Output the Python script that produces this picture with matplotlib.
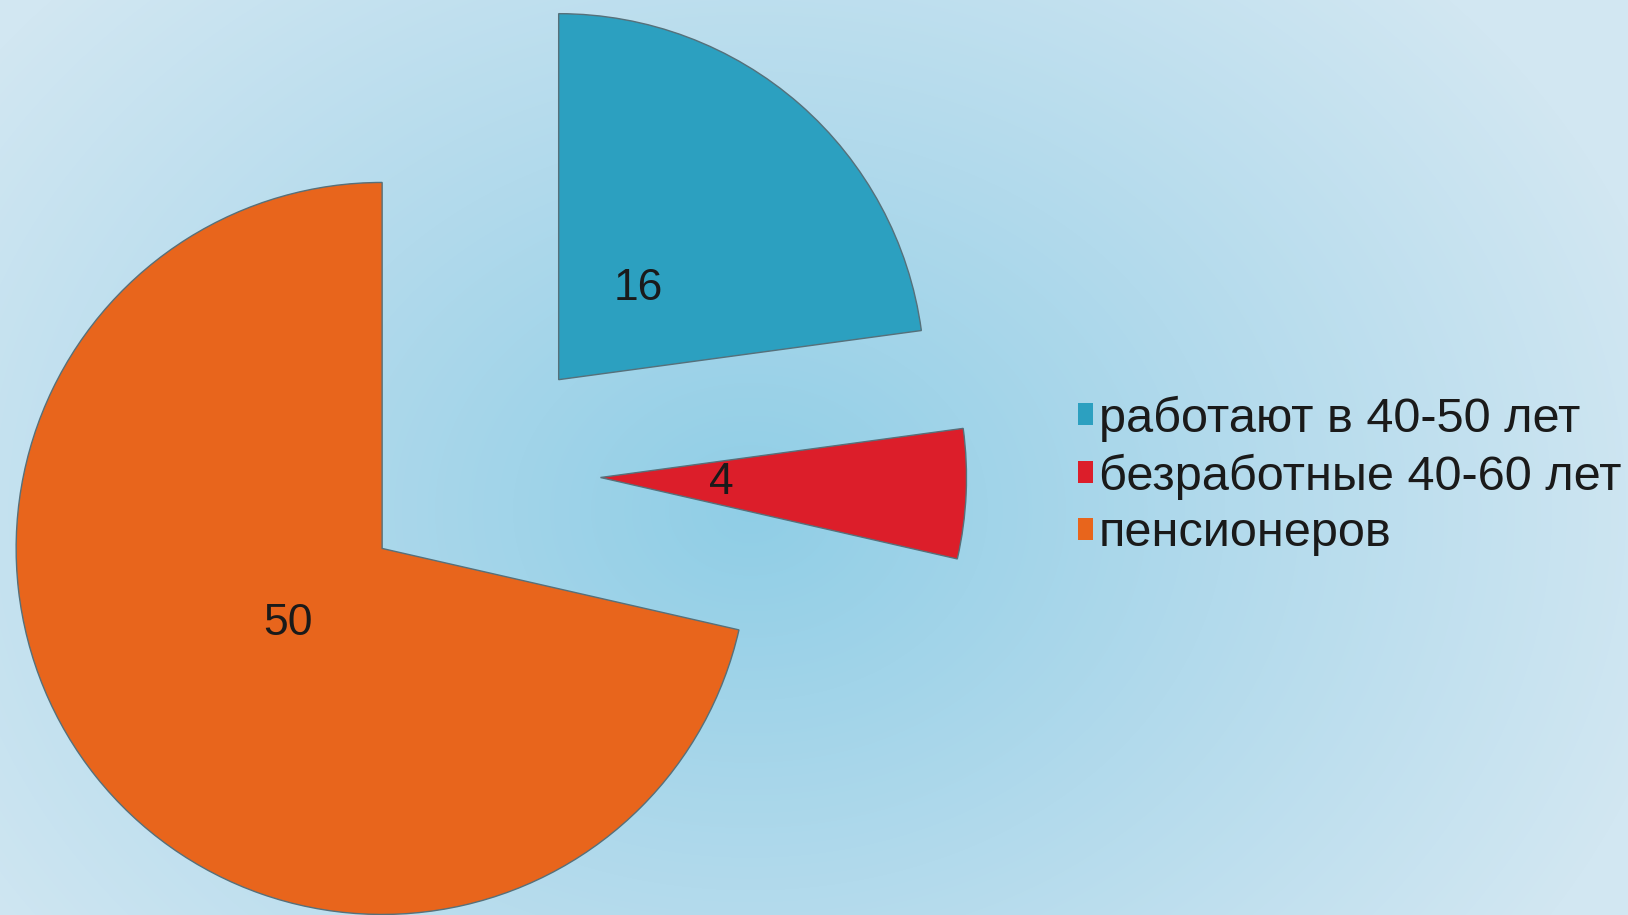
import matplotlib.pyplot as plt
import numpy as np
from matplotlib.colors import LinearSegmentedColormap

# Data
labels = ['работают в 40-50 лет', 'безработные 40-60 лет', 'пенсионеров']
values = [16, 4, 50]
colors = ['#2ca0c0', '#dc1e2a', '#e8651c']

plt.rcParams['font.family'] = ['Liberation Sans', 'DejaVu Sans']

W, H = 1628, 915
fig = plt.figure(figsize=(W / 100, H / 100), dpi=100)

# Background: radial gradient
bg = fig.add_axes([0, 0, 1, 1], zorder=0)
bg.set_axis_off()
yy, xx = np.mgrid[0:H, 0:W]
cx, cy = 750, 510
d = np.sqrt(((xx - cx) / 950.0) ** 2 + ((yy - cy) / 760.0) ** 2)
d = np.clip(d, 0, 1)
cmap = LinearSegmentedColormap.from_list('bg', ['#90cee6', '#b2daec', '#d2e7f2'])
bg.imshow(d, cmap=cmap, vmin=0, vmax=1, aspect='auto', extent=(0, W, H, 0))
bg.set_xlim(0, W)
bg.set_ylim(H, 0)

# Pie
ax = fig.add_axes([0, 0, 1, 1], zorder=1)
ax.patch.set_alpha(0)
wedges, texts, autotexts = ax.pie(
    values, colors=colors, startangle=90, counterclock=False,
    explode=[0.335] * 3, radius=1.0,
    autopct=lambda p: '{:.0f}'.format(p * sum(values) / 100),
    pctdistance=0.33,
    wedgeprops=dict(edgecolor='#56707a', linewidth=1.0),
    textprops=dict(fontsize=32, color='#1a1a1a'))

R = 366.0
ax.set_xlim(-478 / R, (W - 478) / R)
ax.set_ylim(-(H - 472) / R, 472 / R)
ax.set_axis_off()

leg = ax.legend(wedges, labels, loc='center left',
                bbox_to_anchor=(1078 / W, 1 - 476 / H),
                bbox_transform=fig.transFigure,
                frameon=False, fontsize=35, handlelength=0.31,
                handleheight=0.31, handletextpad=0.12, labelspacing=0.24,
                borderpad=0, borderaxespad=0)
for h in leg.legend_handles:
    h.set_edgecolor('none')
for t in leg.get_texts():
    t.set_color('#1a1a1a')

fig.savefig('out.png', dpi=100)
